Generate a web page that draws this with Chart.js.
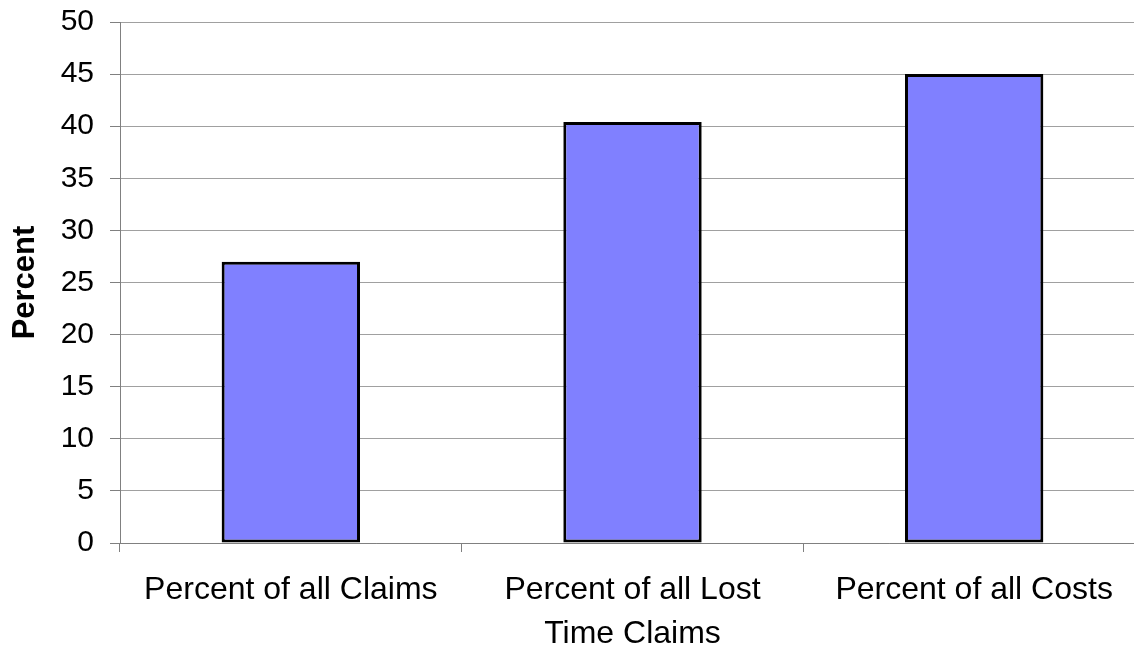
<!DOCTYPE html>
<html>
<head>
<meta charset="utf-8">
<script src="https://cdn.jsdelivr.net/npm/chart.js@4"></script>
<style>
  html, body { margin: 0; padding: 0; background: #fff; overflow: hidden; }
  #wrap { width: 1134px; height: 647px; overflow: hidden; }
  canvas { display: block; }
</style>
</head>
<body>
<div id="wrap"><canvas id="c" width="1146" height="647"></canvas></div>
<script>
// Share of claims and costs
const categories = ['Percent of all Claims', ['Percent of all Lost', 'Time Claims'], 'Percent of all Costs'];
const percentValues = [27, 40.4, 45];
const yTicks = [0, 5, 10, 15, 20, 25, 30, 35, 40, 45, 50];

const FONT = "'Liberation Sans', Arial, Helvetica, sans-serif";

new Chart(document.getElementById('c'), {
  type: 'bar',
  data: {
    labels: categories,
    datasets: [{
      data: percentValues,
      backgroundColor: '#8080ff',
      borderColor: '#000000',
      borderWidth: 3,
      borderSkipped: false,
      categoryPercentage: 1,
      barPercentage: 0.405
    }]
  },
  options: {
    responsive: false,
    animation: false,
    devicePixelRatio: 1,
    layout: { padding: { top: 22, right: 1, bottom: 0, left: 0 } },
    plugins: { legend: { display: false }, tooltip: { enabled: false } },
    scales: {
      x: {
        offset: true,
        afterFit: s => { s.height = 104; },
        grid: {
          offset: true,
          drawOnChartArea: false,
          drawTicks: true,
          tickLength: 9,
          tickColor: '#808080',
          lineWidth: 1
        },
        border: { color: '#808080', width: 1 },
        ticks: {
          color: '#000',
          padding: 17,
          maxRotation: 0,
          autoSkip: false,
          font: { family: FONT, size: 32, lineHeight: 1.35 }
        }
      },
      y: {
        min: 0,
        max: 50,
        afterFit: s => { s.width = 120; s.paddingTop = 0; s.paddingBottom = 0; },
        afterBuildTicks: s => { s.ticks = yTicks.map(v => ({ value: v })); },
        grid: {
          color: '#a0a0a0',
          tickColor: '#808080',
          tickLength: 10,
          lineWidth: 1
        },
        border: { color: '#808080', width: 1 },
        ticks: {
          color: '#000',
          padding: 16,
          font: { family: FONT, size: 30 }
        },
        title: {
          display: true,
          text: 'Percent',
          color: '#000',
          padding: { top: 7, bottom: 5 },
          font: { family: FONT, size: 31, weight: 'bold', lineHeight: 1.2 }
        }
      }
    }
  }
});
</script>
</body>
</html>
